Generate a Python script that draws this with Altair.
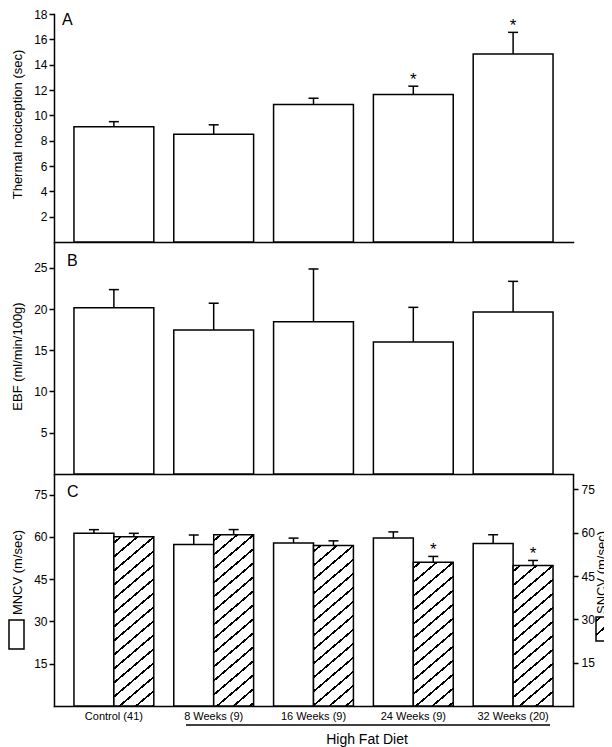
import altair as alt
import pandas as pd

# ---------------- data ----------------
groups = ["Control (41)", "8 Weeks (9)", "16 Weeks (9)", "24 Weeks (9)", "32 Weeks (20)"]

thermal_mean = [9.1, 8.5, 10.85, 11.65, 14.85]
thermal_sem = [0.4, 0.75, 0.5, 0.65, 1.7]
thermal_sig = ["", "", "", "*", "*"]

ebf_mean = [20.15, 17.45, 18.45, 16.0, 19.65]
ebf_sem = [2.2, 3.25, 6.4, 4.2, 3.7]

mncv_mean = [61.3, 57.3, 57.9, 59.6, 57.7]
mncv_sem = [1.3, 3.4, 1.7, 2.2, 3.1]
sncv_mean = [58.6, 59.3, 55.6, 49.8, 48.7]
sncv_sem = [1.2, 1.8, 1.6, 2.0, 1.7]
sncv_sig = ["", "", "", "*", "*"]

thermal_ticks = [2, 4, 6, 8, 10, 12, 14, 16, 18]
ebf_ticks = [5, 10, 15, 20, 25]
ncv_ticks = [15, 30, 45, 60, 75]

# ---------------- style ----------------
FONT = "Liberation Sans"
INK = "black"
W = 519
HA, HB, HC = 228, 231, 231
LW = 1.5
PAD_IN, PAD_OUT = 0.2, 0.2
STEP = W / (len(groups) - PAD_IN + 2 * PAD_OUT)
SUBW = STEP * (1 - PAD_IN) / 2
STAR_SIZE = 17
STAR_DY = -6
TITLE_X = -30


def hatch(w, h, slope=0.85, spacing=14.0, thick=2.3, phase=6.0):
    total = slope * w + h
    c = total / ((slope * w) ** 2 + h ** 2)
    stops = [{"offset": 0, "color": "white"}]
    s = phase
    while s < total:
        a = round(max(0.0, (s - thick / 2) / total), 5)
        b = round(min(1.0, (s + thick / 2) / total), 5)
        stops += [
            {"offset": a, "color": "white"},
            {"offset": a, "color": INK},
            {"offset": b, "color": INK},
            {"offset": b, "color": "white"},
        ]
        s += spacing
    stops.append({"offset": 1, "color": "white"})
    return {"gradient": "linear", "x1": 0, "y1": 0,
            "x2": round(c * slope * w, 5), "y2": round(c * h, 5), "stops": stops}


def xenc(show_labels):
    if show_labels:
        ax = alt.Axis(labels=True, ticks=False, domain=True, title=None, labelPadding=4,
                      labelFontSize=11, labelAngle=0)
    else:
        ax = alt.Axis(labels=False, ticks=False, domain=True, title=None)
    return alt.X("group:N", scale=alt.Scale(domain=groups, paddingInner=PAD_IN,
                                           paddingOuter=PAD_OUT), axis=ax)


def left_axis(title, ticks, ty):
    return alt.Axis(values=ticks, title=title, titleX=TITLE_X, titleY=ty,
                    titleAngle=270, titleBaseline="bottom", titleAlign="center")


def letter(txt, x, y):
    return alt.Chart(alt.Data(values=[{"k": txt}])).mark_text(
        text=txt, fontSize=16, align="left", baseline="alphabetic", color=INK
    ).encode(x=alt.value(x), y=alt.value(y))


def simple_panel(df, dom, ax, h, let, let_x, let_y):
    base = alt.Chart(df).transform_calculate(top="datum.mean + datum.sem")
    sc = alt.Scale(domain=dom, nice=False)
    x = xenc(False)
    bars = base.mark_bar(fill="white", stroke=INK, strokeWidth=LW).encode(
        x=x, y=alt.Y("mean:Q", scale=sc, axis=ax))
    err = base.mark_rule(color=INK, strokeWidth=LW).encode(
        x=x, y=alt.Y("mean:Q", scale=sc, axis=ax), y2="top:Q")
    cap = base.mark_tick(color=INK, size=10, thickness=LW, opacity=1).encode(
        x=x, y=alt.Y("top:Q", scale=sc, axis=ax))
    layers = [bars, err, cap]
    if "sig" in df.columns:
        layers.append(base.mark_text(fontSize=STAR_SIZE, dy=STAR_DY, color=INK).encode(
            x=x, y=alt.Y("top:Q", scale=sc, axis=ax), text="sig:N"))
    layers.append(letter(let, let_x, let_y))
    return alt.layer(*layers).properties(width=W, height=h)


dfA = pd.DataFrame({"group": groups, "mean": thermal_mean, "sem": thermal_sem, "sig": thermal_sig})
dfB = pd.DataFrame({"group": groups, "mean": ebf_mean, "sem": ebf_sem})

panelA = simple_panel(dfA, [0, 18], left_axis("Thermal nociception (sec)", thermal_ticks, 110),
                      HA, "A", 8, 11)
panelB = simple_panel(dfB, [0, 28], left_axis("EBF (ml/min/100g)", ebf_ticks, 113),
                      HB, "B", 13, 23)

# ---------------- panel C ----------------
dfM = pd.DataFrame({"group": groups, "series": "MNCV", "mean": mncv_mean, "sem": mncv_sem})
dfS = pd.DataFrame({"group": groups, "series": "SNCV", "mean": sncv_mean, "sem": sncv_sem,
                    "sig": sncv_sig})

xC = xenc(True)
xo = alt.XOffset("series:N", scale=alt.Scale(domain=["MNCV", "SNCV"], paddingInner=0, paddingOuter=0))

scL = alt.Scale(domain=[0, 82], nice=False)
axL = left_axis("MNCV (m/sec)", ncv_ticks, 97)
baseM = alt.Chart(dfM).transform_calculate(top="datum.mean + datum.sem")
m_bars = baseM.mark_bar(fill="white", stroke=INK, strokeWidth=LW).encode(
    x=xC, xOffset=xo, y=alt.Y("mean:Q", scale=scL, axis=axL))
m_err = baseM.mark_rule(color=INK, strokeWidth=LW).encode(
    x=xC, xOffset=xo, y=alt.Y("mean:Q", scale=scL, axis=axL), y2="top:Q")
m_cap = baseM.mark_tick(color=INK, size=10, thickness=LW, opacity=1).encode(
    x=xC, xOffset=xo, y=alt.Y("top:Q", scale=scL, axis=axL))

one = alt.Data(values=[{"k": 1}])
box_left = alt.Chart(one).mark_rect(fill="white", stroke=INK, strokeWidth=LW).encode(
    x=alt.value(-45), x2=alt.value(-30), y=alt.value(145), y2=alt.value(174))
bracket = alt.Chart(one).mark_rule(color=INK, strokeWidth=1.3).encode(
    x=alt.value(132), x2=alt.value(496), y=alt.value(HC + 19))
hfd = alt.Chart(one).mark_text(text="High Fat Diet", fontSize=14, align="center", color=INK).encode(
    x=alt.value(313), y=alt.value(HC + 34))

left_layer = alt.layer(m_bars, m_err, m_cap, box_left, bracket, hfd, letter("C", 13, 22))

scR = alt.Scale(domain=[0, 80], nice=False)
axR = alt.Axis(values=ncv_ticks, orient="right", title="SNCV (m/sec)", titleX=22, titleY=97,
               titleAngle=270, titleBaseline="top", titleAlign="center", labelPadding=3)
baseS = alt.Chart(dfS).transform_calculate(top="datum.mean + datum.sem")
s_layers = []
for g, v in zip(groups, sncv_mean):
    s_layers.append(
        baseS.transform_filter(alt.datum.group == g)
        .mark_bar(fill=hatch(SUBW, v * HC / 80), stroke=INK, strokeWidth=LW)
        .encode(x=xC, xOffset=xo, y=alt.Y("mean:Q", scale=scR, axis=axR))
    )
s_err = baseS.mark_rule(color=INK, strokeWidth=LW).encode(
    x=xC, xOffset=xo, y=alt.Y("mean:Q", scale=scR, axis=axR), y2="top:Q")
s_cap = baseS.mark_tick(color=INK, size=10, thickness=LW, opacity=1).encode(
    x=xC, xOffset=xo, y=alt.Y("top:Q", scale=scR, axis=axR))
s_star = baseS.mark_text(fontSize=STAR_SIZE, dy=STAR_DY, color=INK).encode(
    x=xC, xOffset=xo, y=alt.Y("top:Q", scale=scR, axis=axR), text="sig:N")
box_right = alt.Chart(one).mark_rect(fill=hatch(17, 24, phase=4.0), stroke=INK, strokeWidth=LW).encode(
    x=alt.value(W + 23), x2=alt.value(W + 40), y=alt.value(142), y2=alt.value(166))

right_layer = alt.layer(*s_layers, s_err, s_cap, s_star, box_right)

panelC = alt.layer(left_layer, right_layer).resolve_scale(y="independent").properties(width=W, height=HC)

chart = (
    alt.vconcat(panelA, panelB, panelC, spacing=0)
    .properties(padding={"left": 0, "right": -10, "top": 0, "bottom": 0})
    .configure(font=FONT)
    .configure_view(stroke=None)
    .configure_axis(labelColor=INK, titleColor=INK, tickColor=INK, domainColor=INK,
                    labelFont=FONT, titleFont=FONT, labelFontSize=12, titleFontSize=13,
                    titleFontWeight="normal", tickSize=5, tickWidth=LW, domainWidth=LW,
                    domainCap="square", labelPadding=2, grid=False)
)

chart.save("out.html", embed_options={"renderer": "svg", "actions": False})
